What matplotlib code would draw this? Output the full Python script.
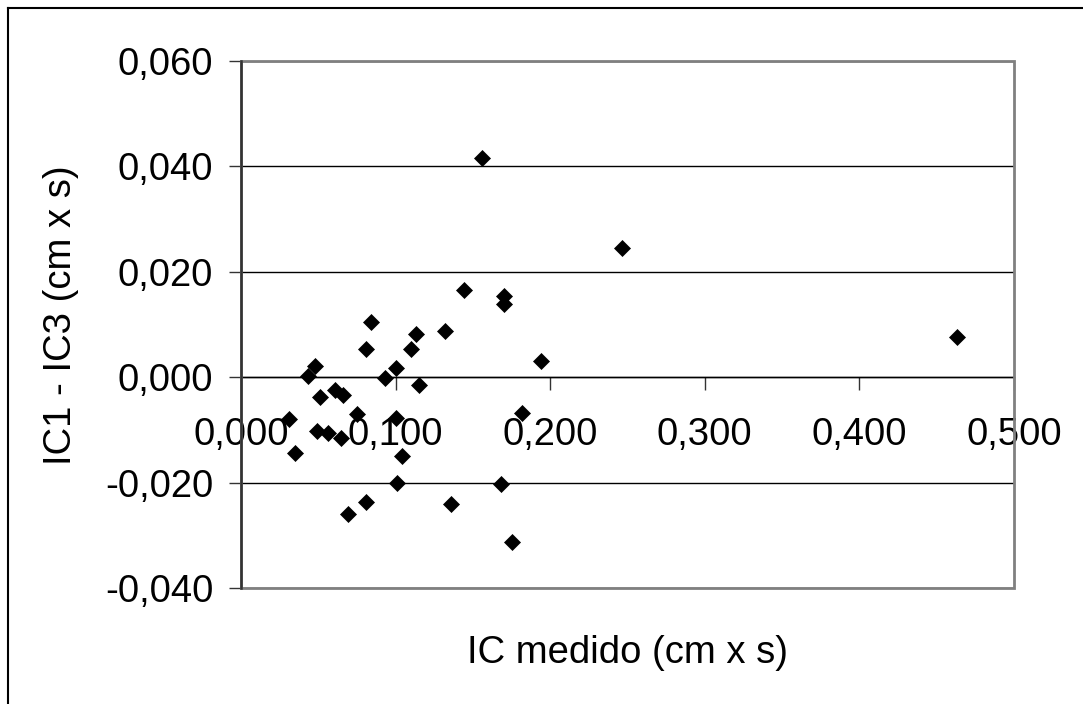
import matplotlib
matplotlib.use("Agg")
import matplotlib.pyplot as plt
from matplotlib.lines import Line2D
from matplotlib.patches import Rectangle
from matplotlib.ticker import FuncFormatter

plt.rcParams['font.family'] = ['Liberation Sans', 'DejaVu Sans']

# IC medido (cm x s)
ic_medido = [0.156, 0.144, 0.170, 0.170, 0.084, 0.132, 0.113, 0.081, 0.110, 0.194,
             0.048, 0.100, 0.0435, 0.093, 0.115, 0.061, 0.066, 0.051, 0.031, 0.075,
             0.100, 0.182, 0.049, 0.056, 0.065, 0.035, 0.104, 0.101, 0.168, 0.081,
             0.069, 0.136, 0.175, 0.2465, 0.463]
# IC1 - IC3 (cm x s)
diferenca = [0.0416, 0.0166, 0.0155, 0.0138, 0.0105, 0.0088, 0.0082, 0.0053, 0.0053, 0.0030,
             0.0022, 0.0017, 0.0002, -0.0001, -0.0014, -0.0024, -0.0034, -0.0037, -0.0080, -0.0069,
             -0.0077, -0.0067, -0.0102, -0.0105, -0.0115, -0.0143, -0.0150, -0.0200, -0.0203, -0.0236,
             -0.0260, -0.0241, -0.0313, 0.0246, 0.0077]

x_ticks = [0.0, 0.1, 0.2, 0.3, 0.4, 0.5]
y_ticks = [-0.04, -0.02, 0.0, 0.02, 0.04, 0.06]


def comma_fmt(v, pos):
    s = '%.3f' % v
    if s == '-0.000':
        s = '0.000'
    return s.replace('.', ',')


W, H = 1083, 704
fig = plt.figure(figsize=(W / 100, H / 100), dpi=100)
left, right, top, bottom = 241, 1014, 61, 588
ax = fig.add_axes([left / W, 1 - bottom / H, (right - left) / W, (bottom - top) / H])

ax.plot(ic_medido, diferenca, linestyle='none', marker='D', color='black',
        markersize=8, markeredgewidth=0.5, zorder=5)

ax.set_xlim(0, 0.5)
ax.set_ylim(-0.04, 0.06)
ax.set_xticks(x_ticks)
ax.set_yticks(y_ticks)
ax.xaxis.set_major_formatter(FuncFormatter(comma_fmt))
ax.yaxis.set_major_formatter(FuncFormatter(comma_fmt))

for s in ['top', 'right']:
    ax.spines[s].set_visible(False)
ax.spines['bottom'].set_position(('data', 0))
ax.spines['bottom'].set_linewidth(1)
ax.spines['left'].set_linewidth(1.8)
ax.spines['left'].set_color('#333333')
ax.spines['left'].set_zorder(4)

ax.tick_params(axis='both', labelsize=27.5, direction='out', length=9, width=1, color='#333333')
ax.tick_params(axis='y', pad=11)
ax.tick_params(axis='x', pad=20)

ax.yaxis.grid(True, color='black', linewidth=1)
ax.set_axisbelow(True)

ax.add_patch(Rectangle((0, 0), 1, 1, transform=ax.transAxes, fill=False,
                       edgecolor='#808080', linewidth=2, zorder=3, clip_on=False))

ax.set_xlabel('IC medido (cm x s)', fontsize=27.5)
ax.xaxis.label.set_verticalalignment('center')
ax.xaxis.set_label_coords(0.5, (bottom - 653) / (bottom - top))
ax.set_ylabel('IC1 - IC3 (cm x s)', fontsize=27.5)
ax.yaxis.label.set_verticalalignment('center')
ax.yaxis.set_label_coords((61 - left) / (right - left), (bottom - 315) / (bottom - top))

# outer frame (only the top and left edges are in the picture)
fig.add_artist(Line2D([8 / W, 8 / W], [0, 1 - 8 / H], transform=fig.transFigure,
                      color='black', linewidth=1.5))
fig.add_artist(Line2D([8 / W, 1], [1 - 8 / H, 1 - 8 / H], transform=fig.transFigure,
                      color='black', linewidth=1.5))

fig.savefig('out.png', dpi=100, facecolor='white')
